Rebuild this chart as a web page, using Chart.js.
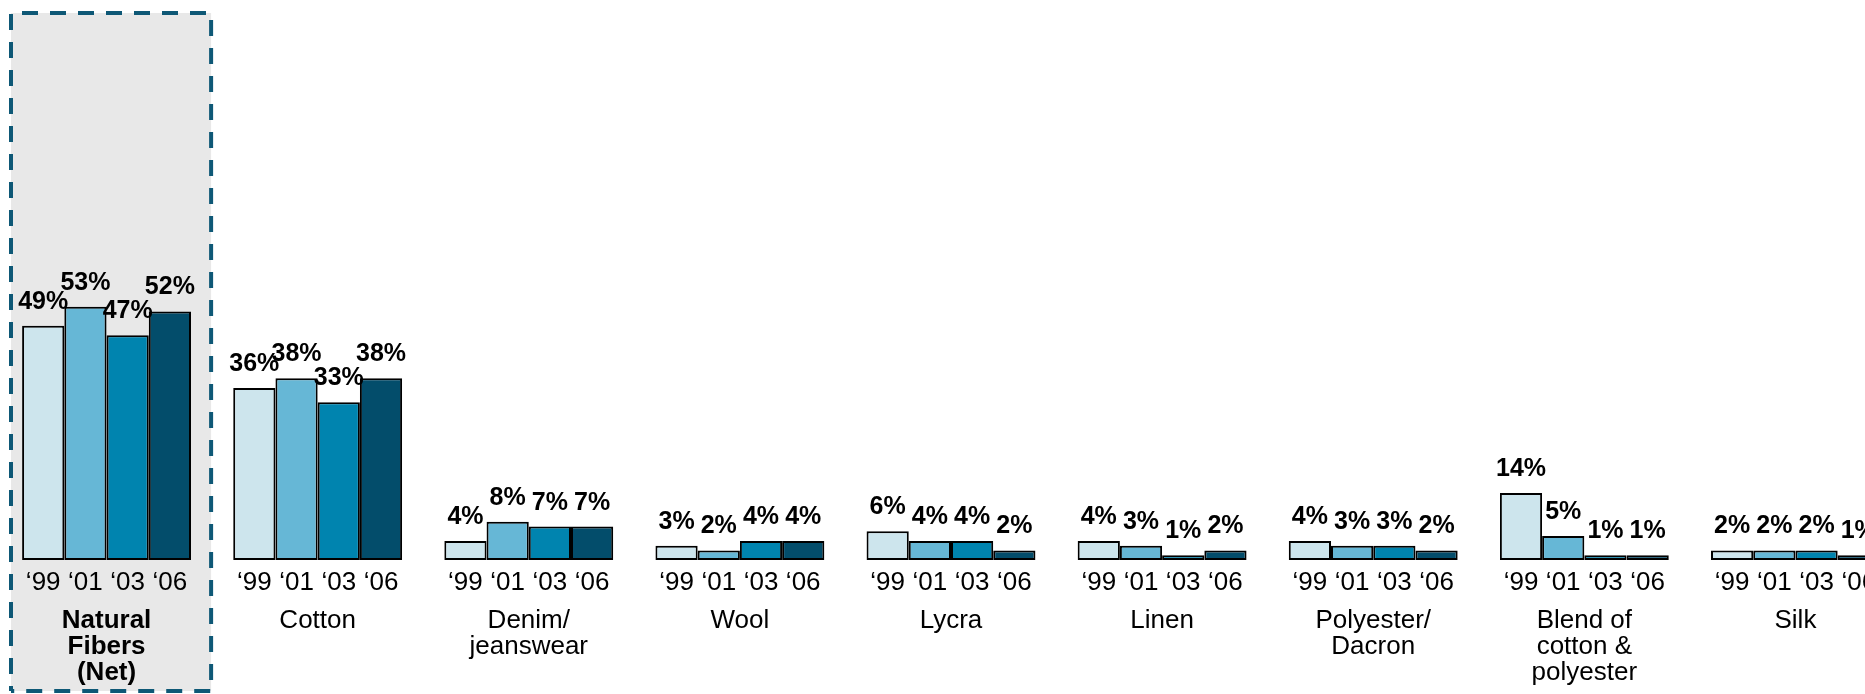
<!DOCTYPE html>
<html>
<head>
<meta charset="utf-8">
<script src="https://cdn.jsdelivr.net/npm/chart.js@4/dist/chart.umd.min.js"></script>
<style>
  html, body { margin: 0; padding: 0; background: #fff; overflow: hidden; width: 1865px; height: 694px; }
  #wrap { position: absolute; left: 0; top: 0; width: 1901px; height: 694px; }
</style>
</head>
<body>
<div id="wrap"><canvas id="fibers" width="1901" height="694"></canvas></div>
<script>
// Fabric categories (first one is the net total for natural fibers)
const categories = [
  ["Natural", "Fibers", "(Net)"],
  "Cotton",
  ["Denim/", "jeanswear"],
  "Wool",
  "Lycra",
  "Linen",
  ["Polyester/", "Dacron"],
  ["Blend of", "cotton &", "polyester"],
  "Silk"
];

// Survey years
const years = ["\u201899", "\u201801", "\u201803", "\u201806"];

// Share of respondents (%) per category, one array per survey year
const share1999 = [49, 36, 4, 3, 6, 4, 4, 14, 2];
const share2001 = [53, 38, 8, 2, 4, 3, 3, 5, 2];
const share2003 = [47, 33, 7, 4, 4, 1, 3, 1, 2];
const share2006 = [52, 38, 7, 4, 2, 2, 2, 1, 1];

const yearColors = ["#CDE5ED", "#66B7D6", "#0084AF", "#034D6B"];
const FONT = '"Liberation Sans", Arial, Helvetica, sans-serif';

const series = [share1999, share2001, share2003, share2006];

// Grey panel with a dashed outline behind the "Natural Fibers (Net)" group
const netPanel = {
  id: "netPanel",
  beforeDraw(chart) {
    const x = chart.scales.x;
    const half = (x.getPixelForValue(1) - x.getPixelForValue(0)) / 2;
    const c = x.getPixelForValue(0);
    const left = c - half + 10;
    const right = c + half - 1;
    const top = 13;
    const bottom = chart.height - 3;
    const ctx = chart.ctx;
    ctx.save();
    ctx.fillStyle = "#E8E8E8";
    ctx.fillRect(left, top, right - left, bottom - top);
    ctx.strokeStyle = "#0E5876";
    ctx.lineWidth = 4;
    ctx.setLineDash([16, 12]);
    ctx.lineDashOffset = 11;
    ctx.beginPath();
    ctx.moveTo(left, bottom);
    ctx.lineTo(left, top);
    ctx.lineTo(right, top);
    ctx.lineTo(right, bottom);
    ctx.lineTo(left, bottom);
    ctx.stroke();
    ctx.restore();
  }
};

// Value labels above each bar and the year label under each bar
const barText = {
  id: "barText",
  afterDatasetsDraw(chart) {
    const ctx = chart.ctx;
    const base = chart.chartArea.bottom;
    ctx.save();
    ctx.textAlign = "center";
    chart.data.datasets.forEach((ds, di) => {
      const meta = chart.getDatasetMeta(di);
      meta.data.forEach((bar, i) => {
        ctx.fillStyle = "#000";
        ctx.font = "bold 25px " + FONT;
        ctx.textBaseline = "alphabetic";
        ctx.fillText(ds.data[i] + "%", bar.x, bar.y - 17);
        ctx.font = "26px " + FONT;
        ctx.textBaseline = "middle";
        ctx.fillText(years[di], bar.x, base + 23);
      });
    });
    ctx.restore();
  }
};

new Chart(document.getElementById("fibers"), {
  type: "bar",
  data: {
    labels: categories,
    datasets: series.map((values, i) => ({
      label: years[i],
      data: values,
      backgroundColor: yearColors[i],
      borderColor: "#000",
      borderWidth: 2,
      borderSkipped: false,
      categoryPercentage: 0.8,
      barPercentage: 1.0
    }))
  },
  options: {
    responsive: false,
    animation: false,
    layout: { padding: { left: 1, right: 0, top: 82, bottom: 0 } },
    plugins: {
      legend: { display: false },
      tooltip: { enabled: false }
    },
    scales: {
      x: {
        grid: { display: false, drawTicks: false },
        border: { display: false },
        ticks: {
          color: "#000",
          padding: 48,
          autoSkip: false,
          maxRotation: 0,
          font: (ctx) => ({
            family: FONT,
            size: 26,
            lineHeight: 1.0,
            weight: ctx.index === 0 ? "bold" : "normal"
          })
        },
        afterFit: (scale) => { scale.height = 134; }
      },
      y: { display: false, min: 0, max: 100 }
    }
  },
  plugins: [netPanel, barText]
});
</script>
</body>
</html>
